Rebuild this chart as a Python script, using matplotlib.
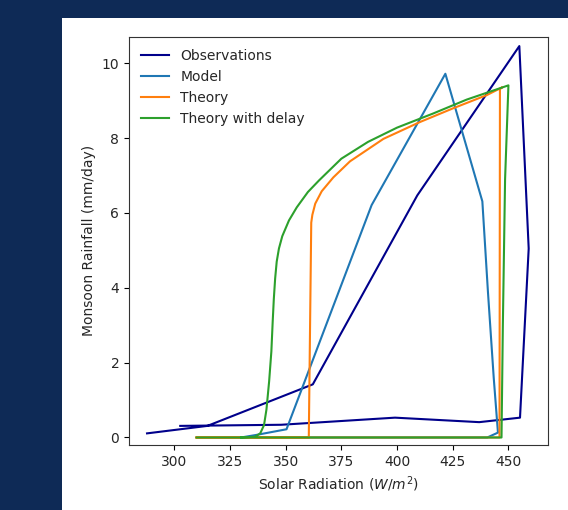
import matplotlib

matplotlib.use("Agg")
import matplotlib.pyplot as plt
from matplotlib.patches import Rectangle

FIGSIZE = (5.6801, 5.1001)
DPI = 100

NAVY_BG = "#0e2a56"

# monthly observations (solar radiation W/m^2, rainfall mm/day)
obs_x = [302.7, 348.0, 399.1, 436.9, 455.2, 459.1, 454.9, 409.1, 362.2, 314.9, 287.8]
obs_y = [0.31, 0.34, 0.53, 0.41, 0.53, 5.05, 10.46, 6.47, 1.42, 0.31, 0.11]

model_x = [330.0, 337.0, 350.4, 388.6, 421.7, 438.3, 440.8, 443.4, 445.3, 440.5, 330.0]
model_y = [0.0, 0.07, 0.22, 6.21, 9.72, 6.31, 3.9, 1.6, 0.13, 0.0, 0.0]

theory_x = [310.0, 446.0, 446.2, 447.3, 440.3, 425.3, 410.3, 393.9, 378.9, 371.4,
            366.2, 363.3, 362.0, 361.5, 360.4, 310.0]
theory_y = [0.0, 0.0, 9.31, 9.36, 9.15, 8.80, 8.43, 7.98, 7.38, 6.95,
            6.58, 6.25, 5.95, 5.74, 0.0, 0.0]

delay_x = [310.0, 446.9, 447.5, 448.5, 450.0, 431.3, 416.3, 400.0, 387.0, 375.0,
           365.0, 360.0, 355.0, 351.5, 348.5, 347.0, 346.0, 345.3, 344.7, 344.2,
           343.6, 342.6, 341.4, 340.3, 338.6, 336.3, 330.0]
delay_y = [0.0, 0.0, 3.0, 6.9, 9.41, 9.03, 8.66, 8.28, 7.90, 7.45,
           6.87, 6.56, 6.15, 5.80, 5.38, 5.05, 4.70, 4.25, 3.70, 3.10,
           2.30, 1.50, 0.75, 0.33, 0.11, 0.02, 0.0]


def main() -> None:
    fig = plt.figure(figsize=FIGSIZE, dpi=DPI, facecolor=NAVY_BG)
    # white slide panel behind the chart
    fig.patches.append(
        Rectangle((61.5 / 568, 0), 1 - 61.5 / 568, 1 - 17.7 / 510,
                  transform=fig.transFigure, facecolor="white", edgecolor="none", zorder=-5)
    )

    ax = fig.add_axes([0.2271, 0.1275, 0.9653 - 0.2271, 0.928 - 0.1275])
    ax.plot(obs_x, obs_y, color="darkblue", label="Observations")
    ax.plot(model_x, model_y, color="C0", label="Model")
    ax.plot(theory_x, theory_y, color="C1", label="Theory")
    ax.plot(delay_x, delay_y, color="C2", label="Theory with delay")

    ax.set_xlim(279.7, 467.9)
    ax.set_ylim(-0.2, 10.71)
    ax.set_xticks([300, 325, 350, 375, 400, 425, 450])
    ax.set_yticks([0, 2, 4, 6, 8, 10])
    ax.set_xlabel("Solar Radiation ($W/m^2$)", color="#262626")
    ax.set_ylabel("Monsoon Rainfall (mm/day)", color="#262626")
    ax.tick_params(labelcolor="#262626")
    for spine in ax.spines.values():
        spine.set_color("#333333")
    leg = ax.legend(loc="upper left", frameon=False)
    for txt in leg.get_texts():
        txt.set_color("#262626")

    fig.savefig("out.png", dpi=DPI, facecolor=NAVY_BG)
    plt.close(fig)


if __name__ == "__main__":
    main()
